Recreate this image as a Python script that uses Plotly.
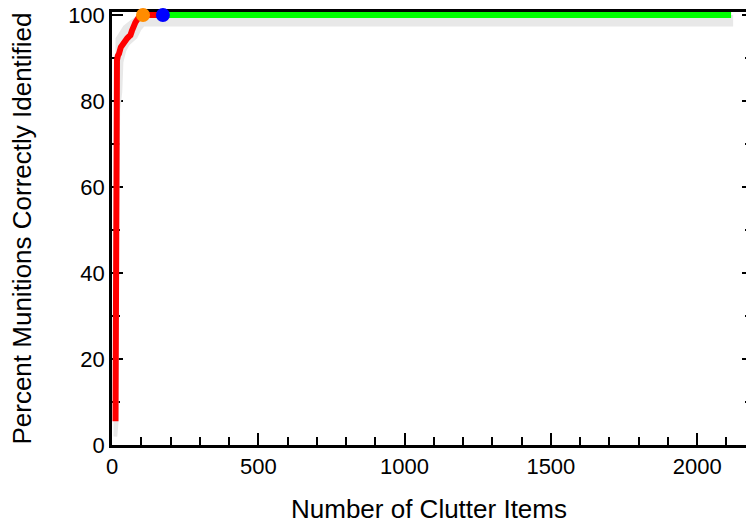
import plotly.graph_objects as go

# ROC-style curve (number of clutter items vs percent munitions identified)
red_x = [12, 12.5, 13, 14, 15, 17, 20, 24, 30, 38, 46, 52, 58, 63, 68, 73, 80, 90, 100, 106, 174]
red_y = [5.5, 30, 60, 80, 86, 89.5, 90.5, 91, 92.5, 93.5, 94, 94.6, 95, 95.3, 96.3, 97.3, 98.3, 99.3, 99.8, 100, 100]

green_x = [174, 2116]
green_y = [100, 100]

orange_x = [106]
orange_y = [100]
blue_x = [174]
blue_y = [100]

# confidence band: upper (left) boundary then lower (right) boundary
band_upper_x = [5, 8, 9, 10, 12, 25, 39, 63, 90, 2123]
band_upper_y = [2, 40, 80, 90, 94.6, 96, 97.5, 98.8, 100, 100]
band_lower_x = [2123, 110, 100, 86, 60, 48, 39, 35, 28, 24, 23, 22, 18]
band_lower_y = [97.3, 97.3, 96.5, 94.6, 93, 91.5, 89, 82, 78, 50, 20, 5, 1.9]

band_x = band_upper_x + band_lower_x + [band_upper_x[0]]
band_y = band_upper_y + band_lower_y + [band_upper_y[0]]

fig = go.Figure()
fig.add_trace(go.Scatter(x=band_x, y=band_y, fill="toself", mode="lines",
                         line=dict(width=0, color="#e8e8e8"),
                         fillcolor="#e8e8e8", hoverinfo="skip", showlegend=False))
fig.add_trace(go.Scatter(x=green_x, y=green_y, mode="lines",
                         line=dict(color="#00ff00", width=6), showlegend=False,
                         cliponaxis=False))
fig.add_trace(go.Scatter(x=red_x, y=red_y, mode="lines",
                         line=dict(color="#ff0000", width=6), showlegend=False,
                         cliponaxis=False))
fig.add_trace(go.Scatter(x=orange_x, y=orange_y, mode="markers",
                         marker=dict(color="#ff8c00", size=14), showlegend=False,
                         cliponaxis=False))
fig.add_trace(go.Scatter(x=blue_x, y=blue_y, mode="markers",
                         marker=dict(color="#0000ff", size=14), showlegend=False,
                         cliponaxis=False))
# invisible trace to activate right-side tick axis
fig.add_trace(go.Scatter(x=[0], y=[0], yaxis="y2", mode="markers",
                         marker=dict(opacity=0), showlegend=False, hoverinfo="skip"))

font = dict(family="Liberation Sans, Arial, sans-serif", size=22, color="black")

fig.update_layout(
    width=746, height=524,
    margin=dict(l=112, r=0, t=12, b=79),
    paper_bgcolor="white", plot_bgcolor="white",
    font=font,
    xaxis=dict(range=[0, 2167], showline=True, linecolor="black", linewidth=3,
               mirror=True, showgrid=False, zeroline=False, layer="below traces",
               ticks="inside", ticklen=12, tickwidth=2, tickcolor="black",
               tick0=0, dtick=500,
               minor=dict(ticks="inside", ticklen=8, tickwidth=1.5, tickcolor="black", dtick=100),
               title=dict(text="Number of Clutter Items", standoff=22),
               automargin=False),
    yaxis=dict(range=[0, 100.7], showline=True, linecolor="black", linewidth=2.5,
               showgrid=False, zeroline=False, layer="below traces",
               ticks="inside", ticklen=11, tickwidth=2, tickcolor="black",
               tick0=0, dtick=20,
               minor=dict(ticks="inside", ticklen=8, tickwidth=1.5, tickcolor="black", dtick=10),
               title=dict(text="Percent Munitions Correctly Identified", standoff=30),
               automargin=False),
    yaxis2=dict(range=[0, 100.7], overlaying="y", side="right", showline=False,
                showgrid=False, zeroline=False, showticklabels=False,
                ticks="inside", ticklen=4, tickwidth=2, tickcolor="black",
                tick0=0, dtick=20,
                minor=dict(ticks="inside", ticklen=1.5, tickwidth=1.5, tickcolor="black", dtick=10)),
)

fig.write_html("out.html", config={"displayModeBar": False},
               post_script="document.body.style.margin='0';")
